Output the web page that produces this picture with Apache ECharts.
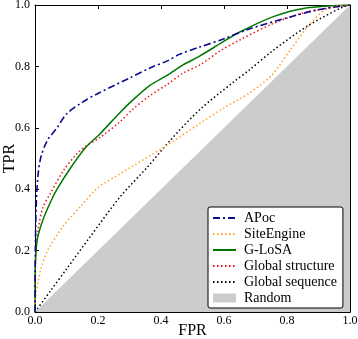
<!DOCTYPE html>
<html><head><meta charset="utf-8">
<script src="https://cdn.jsdelivr.net/npm/echarts@6/dist/echarts.min.js"></script>
<style>html,body{margin:0;padding:0;background:#fff}#c{width:358px;height:339px}</style>
</head><body><div id="c"></div>
<script>
var seriesNames = ['APoc','SiteEngine','G-LoSA','Global structure','Global sequence','Random'];
var tickLabels = ['0.0','0.2','0.4','0.6','0.8','1.0'];
var apoc = [[0,0],[0.001,0.2],[0.004,0.35],[0.01,0.45],[0.02,0.51],[0.04,0.56],[0.07,0.6],[0.1,0.645],[0.15,0.683],[0.2,0.712],[0.3,0.762],[0.365,0.795],[0.42,0.818],[0.46,0.84],[0.52,0.862],[0.6,0.89],[0.68,0.922],[0.8,0.958],[0.9,0.985],[1,1]];
var siteEngine = [[0,0],[0.001,0.04],[0.01,0.1],[0.02,0.145],[0.04,0.2],[0.09,0.28],[0.15,0.35],[0.2,0.405],[0.27,0.45],[0.31,0.475],[0.407,0.535],[0.52,0.612],[0.6,0.665],[0.68,0.713],[0.75,0.77],[0.81,0.853],[0.87,0.935],[0.93,0.99],[1,1]];
var gLoSA = [[0,0],[0.001,0.15],[0.005,0.22],[0.01,0.25],[0.025,0.3],[0.05,0.36],[0.07,0.4],[0.11,0.465],[0.16,0.535],[0.206,0.58],[0.27,0.65],[0.31,0.69],[0.365,0.738],[0.418,0.77],[0.47,0.805],[0.52,0.832],[0.594,0.878],[0.65,0.912],[0.757,0.962],[0.86,0.99],[1,1]];
var globalStructure = [[0,0],[0.001,0.12],[0.003,0.2],[0.01,0.27],[0.025,0.34],[0.048,0.385],[0.09,0.46],[0.13,0.512],[0.165,0.543],[0.206,0.568],[0.27,0.62],[0.31,0.66],[0.365,0.705],[0.418,0.74],[0.47,0.778],[0.524,0.805],[0.587,0.85],[0.65,0.886],[0.757,0.94],[0.863,0.977],[1,1]];
var globalSequence = [[0,0],[0.05,0.07],[0.1,0.14],[0.175,0.245],[0.27,0.375],[0.355,0.47],[0.43,0.56],[0.524,0.66],[0.63,0.749],[0.68,0.788],[0.757,0.853],[0.863,0.93],[0.97,0.99],[1,1]];
var randomLine = [[0,0],[1,1]];

var font = 'Liberation Serif';
var chart = echarts.init(document.getElementById('c'), null, {renderer:'canvas'});
function fmt(v){ return tickLabels[Math.round(v/0.2)]; }
function axisBase(extra){
  var a = {
    type:'value', min:0, max:1, interval:0.2,
    axisLine:{show:true, onZero:false, lineStyle:{color:'#000', width:1}},
    axisTick:{show:true, inside:true, length:4, lineStyle:{color:'#000'}},
    splitLine:{show:false},
    axisLabel:{show:true, color:'#000', fontFamily:font, fontSize:12, formatter:fmt}
  };
  for (var k in extra) a[k] = extra[k];
  return a;
}
function lineSeries(name, data, color, type, width){
  return {name:name, type:'line', data:data, showSymbol:false, symbol:'none', smooth:0.3,
    lineStyle:{color:color, width:width, type:type}, itemStyle:{color:color}, z:3, animation:false};
}
var option = {
  animation:false,
  grid:{left:35, right:8, top:5, bottom:27, containLabel:false, outerBoundsMode:'none'},
  xAxis:[
    axisBase({position:'bottom', name:'FPR', nameLocation:'middle', nameGap:11, nameMoveOverlap:false,
      nameTextStyle:{fontFamily:font, fontSize:16, color:'#000'},
      axisLabel:{show:true,color:'#000',fontFamily:font,fontSize:12,margin:3,formatter:fmt}}),
    axisBase({position:'top', axisLabel:{show:false}})
  ],
  yAxis:[
    axisBase({position:'left', name:'TPR', nameLocation:'middle', nameGap:17, nameMoveOverlap:false,
      nameTextStyle:{fontFamily:font, fontSize:16, color:'#000'},
      axisLabel:{show:true,color:'#000',fontFamily:font,fontSize:12,margin:5,formatter:fmt}}),
    axisBase({position:'right', axisLabel:{show:false}})
  ],
  legend:{
    orient:'vertical', left:208, top:207, padding:[4,6,3,4], itemGap:2,
    itemWidth:23, itemHeight:9,
    backgroundColor:'#fff', borderColor:'#000', borderWidth:1, borderRadius:2,
    itemStyle:{opacity:0},
    textStyle:{fontFamily:font, fontSize:14, color:'#000', lineHeight:13.6, padding:[0,0,0,3]},
    data:[
      {name:'APoc'},{name:'SiteEngine'},{name:'G-LoSA'},{name:'Global structure'},{name:'Global sequence'},
      {name:'Random', icon:'rect', itemStyle:{color:'#cccccc', opacity:1}}
    ]
  },
  series:[
    {name:seriesNames[5], type:'line', data:randomLine, showSymbol:false, symbol:'none',
      lineStyle:{width:0, color:'#cccccc'}, itemStyle:{color:'#cccccc'},
      areaStyle:{color:'#cccccc', opacity:1}, z:1},
    lineSeries(seriesNames[4], globalSequence, '#000000', [1.5,2.5], 1.5),
    lineSeries(seriesNames[3], globalStructure, '#ee1111', [1.5,2.5], 1.5),
    lineSeries(seriesNames[2], gLoSA, '#007800', 'solid', 1.5),
    lineSeries(seriesNames[1], siteEngine, '#ffa020', [1.5,2.5], 1.5),
    lineSeries(seriesNames[0], apoc, '#0a0a90', [7,3,2,3], 1.6)
  ]
};
chart.setOption(option);
</script></body></html>
